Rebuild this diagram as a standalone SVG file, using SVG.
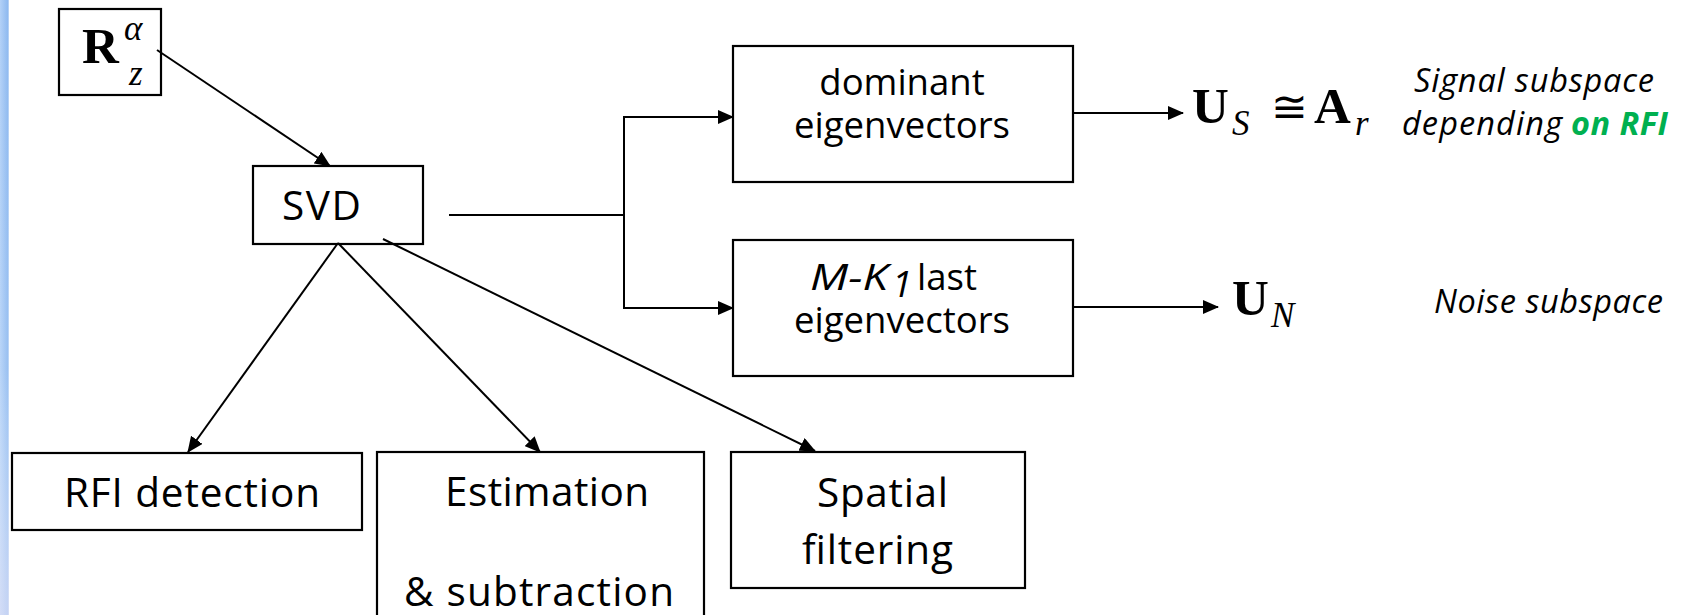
<svg xmlns="http://www.w3.org/2000/svg" width="1681" height="615" viewBox="0 0 1681 615">
  <style>
    .box { fill: #ffffff; stroke: #000000; stroke-width: 2.2; }
    .wire { fill: none; stroke: #000000; stroke-width: 2; }
    .lab { font-family: "Open Sans", "Liberation Sans", sans-serif; font-size: 40.5px; fill: #000000; }
    .lab-sm { font-family: "Open Sans", "Liberation Sans", sans-serif; font-size: 36.5px; fill: #000000; }
    .note { font-family: "Open Sans", "Liberation Sans", sans-serif; font-size: 32.5px; font-style: italic; fill: #000000; }
    .hl { font-weight: bold; fill: #00b050; }
    .math { font-family: "Liberation Serif", "DejaVu Serif", serif; fill: #000000; }
    .mb { font-weight: bold; font-size: 51px; }
    .mi { font-style: italic; font-size: 35px; }
  </style>
  <defs>
    <marker id="arrow" markerUnits="userSpaceOnUse" markerWidth="16" markerHeight="14" viewBox="0 0 16 14" refX="15" refY="7" orient="auto">
      <path d="M0,0 L16,7 L0,14 z" fill="#000000"/>
    </marker>
    <linearGradient id="edgeH" x1="0" y1="0" x2="1" y2="0">
      <stop offset="0" stop-color="#b3d1f7"/>
      <stop offset="0.85" stop-color="#8fbaf0"/>
      <stop offset="1" stop-color="#c9ddf7"/>
    </linearGradient>
    <linearGradient id="edgeV" x1="0" y1="0" x2="0" y2="1">
      <stop offset="0" stop-color="#ffffff" stop-opacity="0"/>
      <stop offset="0.6" stop-color="#ffffff" stop-opacity="0.1"/>
      <stop offset="1" stop-color="#e8e4f6" stop-opacity="0.6"/>
    </linearGradient>
  </defs>

  <rect width="1681" height="615" fill="#ffffff"/>
  <!-- slide edge band -->
  <rect x="0" y="0" width="9" height="615" fill="url(#edgeH)"/>
  <rect x="0" y="0" width="9" height="615" fill="url(#edgeV)"/>

  <g id="node-R">
    <rect class="box" x="59" y="9" width="102" height="86"/>
    <text class="math mb" x="82" y="63" font-size="53px">R</text>
    <text class="math mi" x="124" y="40" font-size="40px">α</text>
    <text class="math mi" x="129" y="85" font-size="29px">z</text>
  </g>

  <g id="node-svd">
    <rect class="box" x="253" y="166" width="170" height="78"/>
    <text class="lab" x="282" y="220" textLength="79">SVD</text>
  </g>

  <g id="node-dominant">
    <rect class="box" x="733" y="46" width="340" height="136"/>
    <text class="lab-sm" x="902" y="95" text-anchor="middle">dominant</text>
    <text class="lab-sm" x="902" y="138" text-anchor="middle">eigenvectors</text>
  </g>

  <g id="node-last">
    <rect class="box" x="733" y="240" width="340" height="136"/>
    <text class="lab-sm" x="810" y="290" font-style="italic" font-size="39px" textLength="78" lengthAdjust="spacingAndGlyphs">M-K</text>
    <text class="lab-sm" x="892" y="297" font-style="italic" font-size="23px">1</text>
    <text class="lab-sm" x="917" y="290">last</text>
    <text class="lab-sm" x="902" y="333" text-anchor="middle">eigenvectors</text>
  </g>

  <g id="node-us">
    <text class="math mb" x="1192" y="123">U</text>
    <text class="math mi" x="1232" y="135">S</text>
    <text class="math" x="1271" y="122" font-size="44px">≅</text>
    <text class="math mb" x="1314" y="123">A</text>
    <text class="math mi" x="1355" y="135">r</text>
    <text class="note" x="1414" y="92" textLength="240">Signal subspace</text>
    <text class="note" x="1402" y="135" textLength="160">depending</text>
    <text class="note hl" x="1571" y="135" textLength="97">on RFI</text>
  </g>

  <g id="node-un">
    <text class="math mb" x="1232" y="315">U</text>
    <text class="math mi" x="1271" y="327">N</text>
    <text class="note" x="1434" y="313" textLength="229">Noise subspace</text>
  </g>

  <g id="node-rfi">
    <rect class="box" x="12" y="453" width="350" height="77"/>
    <text class="lab" x="64" y="507" textLength="256">RFI detection</text>
  </g>

  <g id="node-estimation">
    <rect class="box" x="377" y="452" width="327" height="175"/>
    <text class="lab" x="445" y="506" textLength="204">Estimation</text>
    <text class="lab" x="404" y="606" textLength="270">&amp; subtraction</text>
  </g>

  <g id="node-spatial">
    <rect class="box" x="731" y="452" width="294" height="136"/>
    <text class="lab" x="817" y="507" textLength="131">Spatial</text>
    <text class="lab" x="802" y="564" textLength="151">filtering</text>
  </g>

  <g id="connectors">
    <line class="wire" x1="157" y1="50" x2="330" y2="166" marker-end="url(#arrow)"/>
    <line class="wire" x1="338" y1="243" x2="188" y2="452" marker-end="url(#arrow)"/>
    <line class="wire" x1="338" y1="243" x2="540" y2="452" marker-end="url(#arrow)"/>
    <line class="wire" x1="383" y1="239" x2="815" y2="451" marker-end="url(#arrow)"/>
    <path class="wire" d="M449,215 H624 M624,117 V308"/>
    <line class="wire" x1="623" y1="117" x2="733" y2="117" marker-end="url(#arrow)"/>
    <line class="wire" x1="623" y1="308" x2="733" y2="308" marker-end="url(#arrow)"/>
    <line class="wire" x1="1073" y1="113" x2="1183" y2="113" marker-end="url(#arrow)"/>
    <line class="wire" x1="1073" y1="307" x2="1218" y2="307" marker-end="url(#arrow)"/>
  </g>
</svg>
